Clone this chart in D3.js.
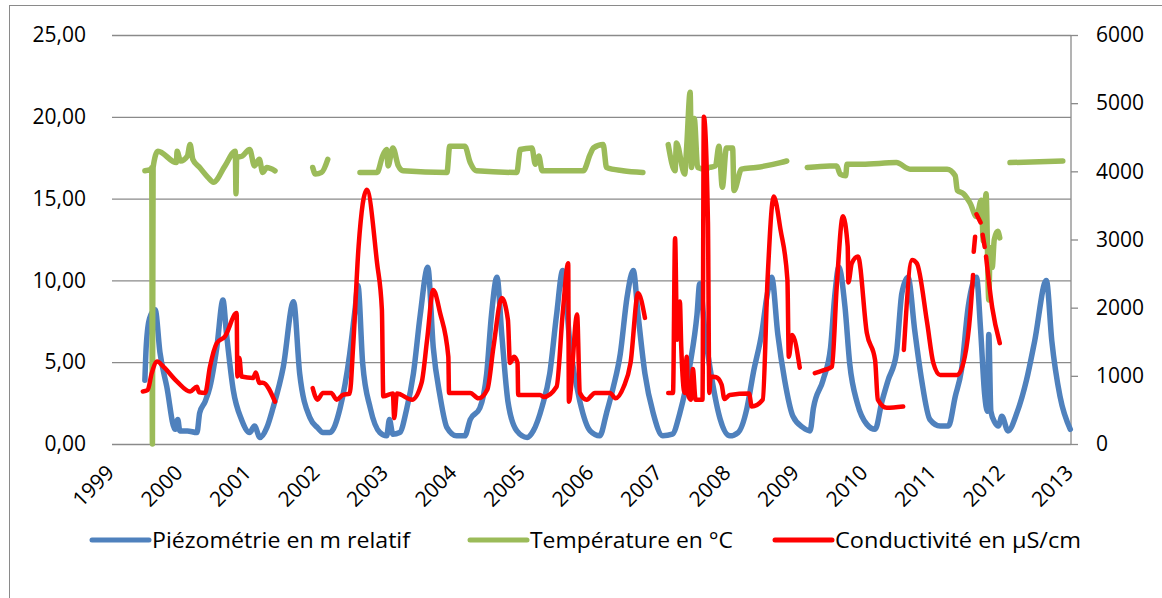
<!DOCTYPE html>
<html>
<head>
<meta charset="utf-8">
<script src="https://cdn.jsdelivr.net/npm/d3@7"></script>
<style>
  body { margin: 0; background: #fff; }
  text { font-family: "Open Sans", "Noto Sans", sans-serif; fill: #000; }
</style>
</head>
<body>
<div id="chart"></div>
<script>
// Years on the x axis (ticks) and axis tick values.
const yearTicks = d3.range(1999, 2014);
const leftTicks = [0, 5, 10, 15, 20, 25];
const rightTicks = [0, 1000, 2000, 3000, 4000, 5000, 6000];
const seriesNames = ['Piézométrie en m relatif', 'Température en °C', 'Conductivité en µS/cm'];

// Piézométrie (m, left axis): [decimal year, value]
const piezo = [
  [1999.48, 3.9], [1999.50, 6.0], [1999.55, 7.7], [1999.63, 8.2], [1999.70, 5.6], [1999.80, 3.5],
  [1999.92, 0.9], [1999.96, 1.5], [1999.99, 0.8], [2000.10, 0.8], [2000.24, 0.7], [2000.28, 1.9],
  [2000.36, 2.6], [2000.43, 3.5], [2000.53, 5.9], [2000.62, 8.8], [2000.67, 6.8], [2000.77, 3.3],
  [2000.89, 1.5], [2001.01, 0.7], [2001.08, 1.1], [2001.16, 0.4], [2001.26, 1.0], [2001.35, 2.2],
  [2001.50, 4.7], [2001.65, 8.7], [2001.74, 4.3], [2001.89, 1.6], [2002.00, 1.0], [2002.08, 0.7],
  [2002.18, 0.7], [2002.33, 2.2], [2002.47, 5.5], [2002.55, 8.3], [2002.59, 9.7], [2002.66, 4.9],
  [2002.77, 2.2], [2002.91, 0.7], [2003.01, 0.5], [2003.05, 1.5], [2003.10, 0.6], [2003.20, 0.7],
  [2003.30, 2.1], [2003.40, 4.3], [2003.50, 7.9], [2003.61, 10.8], [2003.69, 5.9], [2003.79, 2.9],
  [2003.89, 1.0], [2004.03, 0.5], [2004.15, 0.5], [2004.23, 1.5], [2004.37, 2.2], [2004.47, 4.3],
  [2004.54, 7.9], [2004.62, 10.2], [2004.69, 6.7], [2004.78, 2.6], [2004.91, 0.8], [2005.06, 0.4],
  [2005.15, 0.8], [2005.28, 2.3], [2005.39, 4.3], [2005.49, 7.9], [2005.58, 10.6], [2005.69, 5.9],
  [2005.83, 2.6], [2005.98, 0.8], [2006.12, 0.5], [2006.22, 1.9], [2006.32, 3.5], [2006.42, 5.5],
  [2006.52, 9.0], [2006.61, 10.6], [2006.68, 7.9], [2006.78, 4.3], [2006.90, 1.9], [2007.04, 0.5],
  [2007.18, 0.6], [2007.29, 1.9], [2007.44, 4.9], [2007.54, 7.9], [2007.58, 9.8], [2007.66, 6.7],
  [2007.76, 3.9], [2007.88, 1.5], [2008.02, 0.5], [2008.14, 0.7], [2008.27, 2.2], [2008.36, 4.3],
  [2008.49, 6.9], [2008.56, 9.0], [2008.63, 10.2], [2008.72, 6.7], [2008.82, 3.9], [2008.94, 1.7],
  [2009.09, 1.0], [2009.19, 0.8], [2009.24, 2.2], [2009.38, 3.9], [2009.49, 5.9], [2009.55, 9.0],
  [2009.61, 10.8], [2009.70, 8.4], [2009.77, 4.9], [2009.88, 2.5], [2010.02, 1.2], [2010.14, 0.9],
  [2010.24, 2.6], [2010.33, 3.9], [2010.45, 5.5], [2010.53, 9.2], [2010.62, 10.2], [2010.72, 6.9],
  [2010.82, 3.9], [2010.94, 1.5], [2011.09, 1.1], [2011.21, 1.1], [2011.31, 2.9], [2011.40, 4.5],
  [2011.50, 8.4], [2011.62, 10.2], [2011.68, 7.0], [2011.74, 3.0], [2011.78, 2.0], [2011.80, 6.7],
  [2011.83, 2.0], [2011.89, 1.3], [2011.94, 1.1], [2011.99, 1.7], [2012.08, 0.8], [2012.21, 1.9],
  [2012.35, 3.9], [2012.47, 6.3], [2012.64, 10.0], [2012.72, 6.3], [2012.84, 2.9], [2012.99, 0.9],
];

// Température (°C, left axis). null = gap in the record.
const temperature = [
  [1999.48, 16.7], [1999.57, 16.8], [1999.58, 16.9], [1999.59, 0.0], [1999.60, 16.9], [1999.67, 17.9],
  [1999.94, 17.2], [1999.95, 17.9], [2000.00, 17.3], [2000.10, 17.6], [2000.14, 18.3], [2000.18, 17.4],
  [2000.28, 16.9], [2000.40, 16.3], [2000.48, 16.0], [2000.65, 17.0], [2000.80, 17.9], [2000.81, 15.3],
  [2000.82, 17.5], [2000.90, 17.6], [2001.01, 18.0], [2001.08, 17.0], [2001.15, 17.4], [2001.20, 16.6],
  [2001.26, 16.9], [2001.38, 16.7], null,
  [2001.93, 16.9], [2001.97, 16.5], [2002.06, 16.6], [2002.15, 17.4], null,
  [2002.62, 16.6], [2002.87, 16.6], [2002.95, 17.6], [2003.01, 18.0], [2003.03, 17.0], [2003.10, 18.1],
  [2003.18, 17.0], [2003.25, 16.7], [2003.89, 16.6], [2003.93, 18.2], [2004.15, 18.2], [2004.23, 17.2],
  [2004.32, 16.7], [2004.91, 16.6], [2004.96, 18.0], [2005.13, 18.1], [2005.18, 17.1], [2005.23, 17.6],
  [2005.28, 16.7], [2005.88, 16.7], [2005.98, 17.7], [2006.03, 18.1], [2006.17, 18.3], [2006.22, 16.9],
  [2006.46, 16.7], [2006.75, 16.6], null,
  [2007.12, 18.3], [2007.22, 16.7], [2007.24, 18.4], [2007.36, 16.5], [2007.39, 18.2], [2007.44, 21.5],
  [2007.46, 16.9], [2007.50, 19.9], [2007.55, 16.9], [2007.66, 16.8], [2007.72, 16.9], [2007.81, 17.0],
  [2007.86, 18.2], [2007.91, 15.7], [2007.97, 18.1], [2008.06, 18.1], [2008.08, 15.5], [2008.19, 16.8],
  [2008.40, 16.9], [2008.76, 17.2], [2008.85, 17.3], null,
  [2009.15, 16.9], [2009.48, 17.0], [2009.58, 17.0], [2009.63, 16.5], [2009.71, 16.4], [2009.73, 17.1],
  [2009.95, 17.1], [2010.45, 17.2], [2010.65, 16.8], [2011.19, 16.8], [2011.31, 16.4], [2011.34, 15.5],
  [2011.43, 15.3], [2011.53, 14.7], [2011.62, 13.9], [2011.69, 14.9], [2011.72, 12.4], [2011.76, 15.3],
  [2011.80, 8.8], [2011.82, 12.0], [2011.85, 10.8], [2011.88, 12.5], [2011.93, 13.0], [2011.96, 12.6], null,
  [2012.11, 17.2], [2012.88, 17.3],
];

// Conductivité (µS/cm, right axis). null = gap in the record.
const conductivity = [
  [1999.45, 770], [1999.52, 790], [1999.58, 1040], [1999.66, 1210], [1999.75, 1135], [1999.95, 915],
  [2000.14, 770], [2000.24, 840], [2000.27, 760], [2000.36, 750], [2000.43, 1135], [2000.53, 1480],
  [2000.65, 1580], [2000.82, 1920], [2000.83, 990], [2000.86, 1260], [2000.89, 990], [2001.06, 970],
  [2001.10, 1050], [2001.15, 895], [2001.20, 900], [2001.38, 620], null,
  [2001.93, 820], [2002.00, 650], [2002.08, 750], [2002.20, 750], [2002.28, 650], [2002.37, 720],
  [2002.47, 740], [2002.52, 1430], [2002.60, 2900], [2002.72, 3730], [2002.87, 2650], [2002.94, 1970],
  [2002.96, 700], [2003.10, 740], [2003.12, 380], [2003.16, 740], [2003.38, 650], [2003.52, 900],
  [2003.60, 1530], [2003.69, 2260], [2003.79, 1920], [2003.91, 1280], [2003.92, 750], [2004.23, 750],
  [2004.35, 670], [2004.48, 800], [2004.57, 1430], [2004.69, 2140], [2004.78, 1820], [2004.81, 1190],
  [2004.87, 1280], [2004.92, 1190], [2004.93, 720], [2005.25, 720], [2005.30, 690], [2005.49, 840],
  [2005.58, 1920], [2005.66, 2650], [2005.67, 620], [2005.79, 1900], [2005.83, 750], [2005.93, 650],
  [2006.05, 750], [2006.27, 750], [2006.35, 670], [2006.47, 840], [2006.57, 1190], [2006.68, 2210],
  [2006.78, 1850], null,
  [2007.12, 750], [2007.19, 750], [2007.22, 3020], [2007.25, 1530], [2007.29, 2090], [2007.31, 1430],
  [2007.36, 750], [2007.39, 1280], [2007.41, 720], [2007.45, 650], [2007.48, 1100], [2007.52, 650],
  [2007.62, 650], [2007.64, 4800], [2007.70, 3250], [2007.72, 750], [2007.74, 990], [2007.82, 980],
  [2007.90, 870], [2007.94, 660], [2008.02, 720], [2008.30, 740], [2008.34, 550], [2008.50, 650],
  [2008.57, 2410], [2008.66, 3630], [2008.76, 3140], [2008.86, 2410], [2008.88, 1280], [2008.93, 1600],
  [2009.04, 1120], null,
  [2009.26, 1040], [2009.38, 1080], [2009.48, 1116], [2009.51, 1135], [2009.58, 2310], [2009.67, 3340],
  [2009.74, 2900], [2009.75, 2370], [2009.80, 2650], [2009.89, 2750], [2010.02, 1625], [2010.14, 1230],
  [2010.18, 650], [2010.31, 530], [2010.55, 550], null,
  [2010.56, 1380], [2010.68, 2700], [2010.75, 2650], [2010.90, 1776], [2010.99, 1190], [2011.09, 1013],
  [2011.34, 1013], [2011.45, 1282], [2011.53, 1920], [2011.57, 2480], null,
  [2011.58, 2820], [2011.60, 3040], null,
  [2011.62, 3370], [2011.68, 3250], null,
  [2011.71, 3070], [2011.74, 2890], null,
  [2011.76, 2750], [2011.85, 2000], [2011.96, 1480],
];

const attrs = {
  svgWidth: 1162,
  svgHeight: 598,
  plotLeft: 112,
  plotRight: 1071,
  plotTop: 35,
  plotBottom: 444,
  gridColor: '#8a8a8a',
  colors: ['#4F81BD', '#9BBB59', '#FF0000'],
  fontSize: 21,
};

const svg = d3.select('#chart')
  .append('svg')
  .attr('width', attrs.svgWidth)
  .attr('height', attrs.svgHeight);

// Outer chart border
svg.append('rect')
  .attr('x', 9.5).attr('y', 5.5)
  .attr('width', attrs.svgWidth).attr('height', attrs.svgHeight)
  .attr('fill', '#fff')
  .attr('stroke', '#8a8a8a');

// Scales.
const xScale = d3.scaleLinear()
  .domain([1999, 2013])
  .range([attrs.plotLeft, attrs.plotRight]);

const yLeft = d3.scaleLinear()
  .domain([0, 25])
  .range([attrs.plotBottom, attrs.plotTop]);

const yRight = d3.scaleLinear()
  .domain([0, 6000])
  .range([attrs.plotBottom, attrs.plotTop]);

const commaFormat = d => d3.format('.2f')(d).replace('.', ',');

const styleText = g => g.selectAll('text')
  .style('font-size', attrs.fontSize + 'px')
  .style('font-family', '"Open Sans", sans-serif')
  .attr('fill', '#000');

// Horizontal gridlines + left labels.
const leftAxis = d3.axisLeft(yLeft)
  .tickValues(leftTicks)
  .tickSize(-(attrs.plotRight - attrs.plotLeft))
  .tickPadding(26)
  .tickFormat(commaFormat);

svg.append('g')
  .attr('class', 'y-left')
  .attr('transform', 'translate(' + attrs.plotLeft + ',0)')
  .call(leftAxis)
  .call(g => g.select('.domain').remove())
  .call(g => g.selectAll('line').attr('stroke', attrs.gridColor).attr('stroke-width', 1.3))
  .call(styleText);

// Right axis.
const rightAxis = d3.axisRight(yRight)
  .tickValues(rightTicks)
  .tickSize(7)
  .tickPadding(18)
  .tickFormat(d3.format('d'));

svg.append('g')
  .attr('class', 'y-right')
  .attr('transform', 'translate(' + attrs.plotRight + ',0)')
  .call(rightAxis)
  .call(g => g.select('.domain').attr('stroke', attrs.gridColor).attr('stroke-width', 1.3)
    .attr('d', 'M0,' + attrs.plotTop + 'V' + attrs.plotBottom))
  .call(g => g.selectAll('line').attr('stroke', attrs.gridColor).attr('stroke-width', 1.3))
  .call(styleText);

// X axis labels, rotated.
const xAxis = d3.axisBottom(xScale)
  .tickValues(yearTicks)
  .tickSize(0)
  .tickFormat(d3.format('d'));

svg.append('g')
  .attr('class', 'x-axis')
  .attr('transform', 'translate(0,' + attrs.plotBottom + ')')
  .call(xAxis)
  .call(g => g.select('.domain').remove())
  .call(styleText)
  .call(g => g.selectAll('text')
    .attr('text-anchor', 'end')
    .attr('dy', 0)
    .attr('y', 0)
    .attr('transform', 'translate(3,30) rotate(-45)'));

// Lines. Monotone curve stands in for Excel's dense daily record.
const lineLeft = d3.line()
  .defined(d => d !== null)
  .curve(d3.curveMonotoneX)
  .x(d => xScale(d[0]))
  .y(d => yLeft(d[1]));

const lineRight = d3.line()
  .defined(d => d !== null)
  .curve(d3.curveMonotoneX)
  .x(d => xScale(d[0]))
  .y(d => yRight(d[1]));

const series = [
  { data: piezo, line: lineLeft, width: 5.5 },
  { data: temperature, line: lineLeft, width: 5.5 },
  { data: conductivity, line: lineRight, width: 4.5 },
];

svg.append('g')
  .attr('class', 'series')
  .selectAll('path')
  .data(series)
  .enter()
  .append('path')
  .attr('d', d => d.line(d.data))
  .attr('fill', 'none')
  .attr('stroke', (d, i) => attrs.colors[i])
  .attr('stroke-width', d => d.width)
  .attr('stroke-linejoin', 'round')
  .attr('stroke-linecap', 'round');

// Legend.
const legendItems = [
  { x: 92, width: 258 },
  { x: 470, width: 203 },
  { x: 775, width: 246 },
];
const legendY = 540;

const legend = svg.append('g')
  .attr('class', 'legend')
  .selectAll('g')
  .data(seriesNames)
  .enter()
  .append('g')
  .attr('transform', (d, i) => 'translate(' + legendItems[i].x + ',' + legendY + ')');

legend.append('line')
  .attr('x1', 0).attr('x2', 57)
  .attr('y1', 0).attr('y2', 0)
  .attr('stroke', (d, i) => attrs.colors[i])
  .attr('stroke-width', 5)
  .attr('stroke-linecap', 'round');

legend.append('text')
  .attr('x', 60)
  .attr('y', 8)
  .attr('textLength', (d, i) => legendItems[i].width)
  .attr('lengthAdjust', 'spacingAndGlyphs')
  .style('font-size', attrs.fontSize + 'px')
  .text(d => d);
</script>
</body>
</html>
